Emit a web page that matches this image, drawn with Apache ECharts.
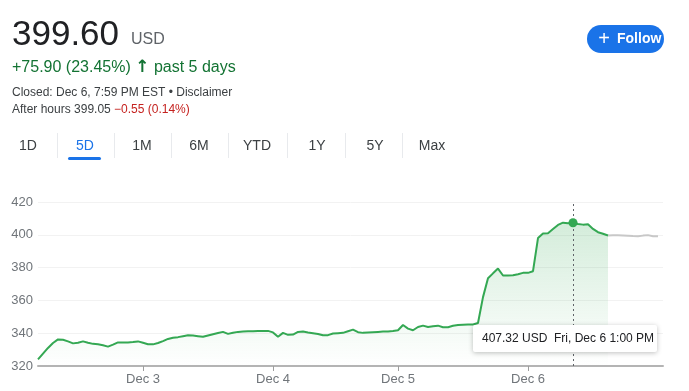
<!DOCTYPE html>
<html>
<head>
<meta charset="utf-8">
<script src="https://cdn.jsdelivr.net/npm/echarts@6/dist/echarts.min.js"></script>
<style>
html,body{margin:0;padding:0;background:#fff;}
#main{width:689px;height:391px;}
</style>
</head>
<body>
<div id="main"></div>
<script>
// ---- data ----
const dayLabels = ['Dec 3', 'Dec 4', 'Dec 5', 'Dec 6'];
const dayTickIndex = [21, 47, 72, 98];
const yTicks = [320, 340, 360, 380, 400, 420];
// regular + extended session prices (green), sampled evenly
const closePrices = [
  324.0, 327.5, 331.0, 334.0, 336.2, 336.0, 335.0, 333.8, 334.2, 335.0,
  334.2, 333.5, 333.2, 332.6, 331.8, 333.0, 334.4, 334.4, 334.4, 334.6,
  335.0, 334.2, 333.3, 333.2, 334.0, 335.2, 336.5, 337.2, 337.6, 338.2,
  338.8, 338.6, 338.2, 337.8, 338.6, 339.4, 340.1, 340.8, 339.6, 340.3,
  340.8, 341.0, 341.2, 341.2, 341.3, 341.3, 341.4, 340.5, 337.8, 340.2,
  339.0, 339.2, 340.8, 341.0, 340.4, 340.0, 339.5, 338.7, 338.8, 339.8,
  340.0, 340.2, 341.2, 342.2, 340.6, 340.2, 340.4, 340.6, 340.8, 341.0,
  341.1, 341.3, 341.8, 345.0, 342.8, 341.8, 343.8, 344.6, 343.8, 344.3,
  344.6, 343.6, 343.6, 344.5, 345.0, 345.2, 345.3, 345.3, 346.2, 362.0,
  373.5, 376.5, 379.4, 375.2, 375.2, 375.3, 376.0, 376.8, 376.8, 377.8,
  398.0, 400.8, 401.0, 403.5, 406.0, 407.4, 407.0, 407.32, 406.6, 406.2,
  406.4, 403.6, 401.6, 400.6, 399.6
];
// after-hours prices (grey), continuing from the close
const afterHours = [399.6, 399.7, 399.7, 399.6, 399.4, 399.2, 399.1, 399.5, 399.8, 399.1, 399.05];
const hoverIndex = 107;
const hoverText = '407.32 USD  Fri, Dec 6 1:00 PM';

// ---- build ----
const totalSlots = closePrices.length + afterHours.length; // one spare slot at right edge
const categories = [];
for (let i = 0; i < totalSlots; i++) categories.push(String(i));
const greyData = [];
for (let i = 0; i < closePrices.length - 1; i++) greyData.push('-');
afterHours.forEach(v => greyData.push(v));

const FONT = '"Liberation Sans", Arial, sans-serif';
const chart = echarts.init(document.getElementById('main'), null, {renderer: 'canvas'});

const tabs = [['1D', 28], ['5D', 85], ['1M', 142], ['6M', 199], ['YTD', 257], ['1Y', 317], ['5Y', 375], ['Max', 432]];
const seps = [57, 114, 171, 228, 287, 345, 402];
const graphics = [];
graphics.push({type: 'text', left: 12, top: 18, style: {text: '399.60', font: '35px ' + FONT, fill: '#202124'}});
graphics.push({type: 'text', left: 131, top: 32, style: {text: 'USD', font: '16px ' + FONT, fill: '#5f6368'}});
graphics.push({type: 'text', left: 12, top: 59, style: {
  text: '+75.90 (23.45%) {a|↑} past 5 days', font: '16px ' + FONT, fill: '#137333',
  rich: {a: {font: 'bold 17px "DejaVu Sans", ' + FONT, fill: '#137333'}}
}});
graphics.push({type: 'text', left: 12, top: 87, style: {text: 'Closed: Dec 6, 7:59 PM EST • Disclaimer', font: '12px ' + FONT, fill: '#3c4043'}});
graphics.push({type: 'text', left: 12, top: 104, style: {
  text: 'After hours 399.05 {r|−0.55 (0.14%)}', font: '12px ' + FONT, fill: '#3c4043',
  rich: {r: {font: '12px ' + FONT, fill: '#c5221f'}}
}});
tabs.forEach(([t, cx]) => {
  graphics.push({type: 'text', x: cx, y: 146, style: {text: t, font: '14px ' + FONT, fill: t === '5D' ? '#1a73e8' : '#3c4043', align: 'center', verticalAlign: 'middle'}});
});
seps.forEach(x => {
  graphics.push({type: 'line', shape: {x1: x + 0.5, y1: 133, x2: x + 0.5, y2: 158}, style: {stroke: '#e8eaed', lineWidth: 1}});
});
graphics.push({type: 'rect', shape: {x: 68, y: 157, width: 33, height: 3, r: 1.5}, style: {fill: '#1a73e8'}});
// Follow button
graphics.push({type: 'rect', shape: {x: 587, y: 25, width: 77, height: 28, r: 14}, style: {fill: '#1a73e8'}});
graphics.push({type: 'text', x: 604, y: 39, style: {text: '+', font: '20px ' + FONT, fill: '#fff', align: 'center', verticalAlign: 'middle'}});
graphics.push({type: 'text', x: 617, y: 39, style: {text: 'Follow', font: 'bold 14px ' + FONT, fill: '#fff', align: 'left', verticalAlign: 'middle'}});
// hover tooltip box
graphics.push({type: 'rect', z: 100, shape: {x: 473, y: 325, width: 184, height: 27, r: 2},
  style: {fill: '#fff', shadowBlur: 5, shadowColor: 'rgba(0,0,0,0.25)', shadowOffsetY: 1}});
graphics.push({type: 'text', z: 101, x: 482, y: 339, style: {text: hoverText, font: '12px ' + FONT, fill: '#202124', verticalAlign: 'middle'}});

chart.setOption({
  animation: false,
  textStyle: {fontFamily: FONT},
  grid: {left: 38, right: 26, top: 202, bottom: 25},
  xAxis: {
    type: 'category',
    data: categories,
    boundaryGap: false,
    axisLine: {show: true, lineStyle: {color: '#b4b4b4', width: 2}},
    axisTick: {show: true, length: 5, lineStyle: {color: '#9e9e9e'},
      interval: (idx) => dayTickIndex.indexOf(idx) >= 0},
    axisLabel: {show: true, color: '#70757a', fontSize: 13, margin: 7,
      interval: (idx) => dayTickIndex.indexOf(idx) >= 0,
      formatter: (v, idx) => { const k = dayTickIndex.indexOf(Number(v)); return k >= 0 ? dayLabels[k] : ''; }},
    splitLine: {show: false}
  },
  yAxis: {
    type: 'value',
    min: yTicks[0], max: yTicks[yTicks.length - 1], interval: 20,
    axisLine: {show: false}, axisTick: {show: false},
    axisLabel: {color: '#70757a', fontSize: 13, margin: 5},
    splitLine: {lineStyle: {color: '#f2f2f2', width: 1}}
  },
  series: [
    {
      type: 'line', data: closePrices, showSymbol: false, smooth: false,
      lineStyle: {color: '#34a853', width: 2},
      areaStyle: {color: new echarts.graphic.LinearGradient(0, 0, 0, 1, [
        {offset: 0, color: 'rgba(52,168,83,0.30)'},
        {offset: 1, color: 'rgba(52,168,83,0.0)'}
      ])},
      markLine: {silent: true, symbol: 'none', label: {show: false},
        lineStyle: {color: '#5f6368', type: [2, 3], width: 1},
        data: [{xAxis: hoverIndex}]},
      markPoint: {symbol: 'circle', symbolSize: 9, itemStyle: {color: '#34a853'}, label: {show: false},
        data: [{coord: [hoverIndex, closePrices[hoverIndex]]}]},
      z: 3
    },
    {
      type: 'line', data: greyData, showSymbol: false,
      lineStyle: {color: '#c8c8c8', width: 2}, z: 2
    }
  ],
  graphic: graphics
});
</script>
</body>
</html>
